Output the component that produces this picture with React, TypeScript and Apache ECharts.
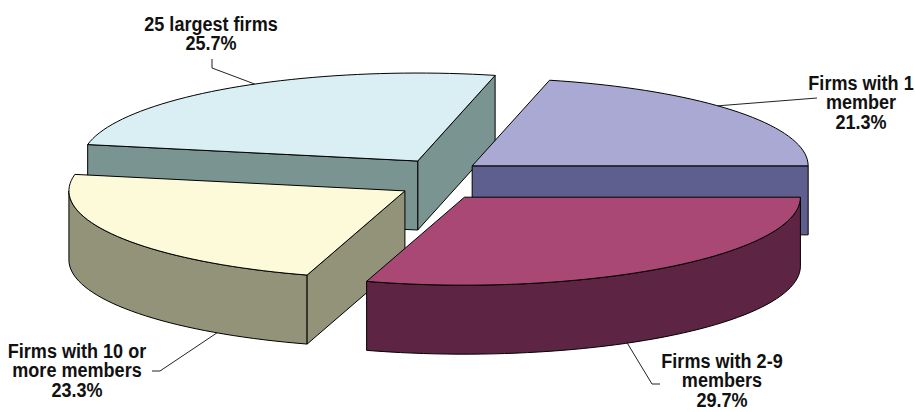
import React, { useEffect, useRef } from "react";
import * as echarts from "echarts";

// ---- data ----
const categories = [
  "Firms with 1\nmember",
  "Firms with 2-9\nmembers",
  "Firms with 10 or\nmore members",
  "25 largest firms",
];
const shares = [21.3, 29.7, 23.3, 25.7];

// ---- styles ----
const topColors = ["#aaa9d3", "#a94874", "#fcfad8", "#d9eff4"];
const sideColors = ["#5f5f8f", "#5e2443", "#93937a", "#7a9492"];
const drawRank = [1, 3, 2, 0];
const labelPos = [
  [861, 72],
  [722, 350],
  [77, 340],
  [211, 13],
];
const leaderAngle = [43, -61, -124, 119];
const leaderElbows = [
  [[817, 98]],
  [[652, 384], [660, 384]],
  [[160, 371], [152, 371]],
  [[212, 68], [212, 59]],
];

const CX = 440;
const CY = 179.5;
const RX = 336;
const RY = 88;
const DEPTH = 69;
const EXPLODE_X = 41;
const EXPLODE_Y = 22;

const FONT = '"Liberation Sans", Arial, sans-serif';
const TEXT_SCALE_X = 0.86;

export default function App() {
  const ref = useRef<HTMLDivElement>(null);

  useEffect(() => {
    document.body.style.margin = "0";
    if (!ref.current) return;
    const chart = echarts.init(ref.current, null, { renderer: "svg" });
    const total = shares.reduce((a, b) => a + b, 0);
    const startDeg = (shares[0] / total) * 360;
    const rad = (d: number) => (d * Math.PI) / 180;

    const sliceGeom = (i: number) => {
      let cum = 0;
      for (let k = 0; k < i; k++) cum += shares[k];
      const hi = startDeg - (cum / total) * 360;
      const lo = hi - (shares[i] / total) * 360;
      const mid = (lo + hi) / 2;
      const cx = CX + EXPLODE_X * Math.cos(rad(mid));
      const cy = CY - EXPLODE_Y * Math.sin(rad(mid));
      return { lo, hi, cx, cy };
    };

    const renderItem = (params: any) => {
      const i = params.dataIndex;
      const { lo, hi, cx, cy } = sliceGeom(i);
      const P = (deg: number, dz: number) => [
        cx + RX * Math.cos(rad(deg)),
        cy - RY * Math.sin(rad(deg)) + dz,
      ];
      const arc = (a: number, b: number, dz: number) => {
        const n = Math.max(2, Math.ceil(Math.abs(b - a) / 2));
        const pts: number[][] = [];
        for (let k = 0; k <= n; k++) pts.push(P(a + ((b - a) * k) / n, dz));
        return pts;
      };
      const base = drawRank[i] * 10;
      const sideStyle = {
        fill: sideColors[i],
        stroke: "#000",
        lineWidth: 1,
        lineJoin: "round",
      };
      const children: any[] = [];
      // curved wall (front half only)
      for (let k = -2; k <= 2; k++) {
        const a = Math.max(lo, -180 + 360 * k);
        const b = Math.min(hi, 360 * k);
        if (b - a > 0.01) {
          const top = arc(a, b, 0);
          const bot = arc(b, a, DEPTH);
          children.push({
            type: "polygon",
            z2: base + 1,
            shape: { points: top.concat(bot) },
            style: sideStyle,
          });
        }
      }
      // radial faces
      const radial = (deg: number) => {
        const r0 = P(deg, 0);
        const r1 = P(deg, DEPTH);
        children.push({
          type: "polygon",
          z2: base + 2,
          shape: { points: [[cx, cy], r0, r1, [cx, cy + DEPTH]] },
          style: sideStyle,
        });
      };
      if (Math.cos(rad(lo)) > 1e-6) radial(lo);
      if (Math.cos(rad(hi)) < -1e-6) radial(hi);
      // top face
      children.push({
        type: "polygon",
        z2: base + 5,
        shape: { points: [[cx, cy]].concat(arc(lo, hi, 0)) },
        style: { fill: topColors[i], stroke: "#000", lineWidth: 1, lineJoin: "round" },
      });
      // leader line
      const la = leaderAngle[i];
      const anchor = P(la, Math.sin(rad(la)) < 0 ? DEPTH : 0);
      children.push({
        type: "polyline",
        z2: 100,
        shape: { points: [anchor].concat(leaderElbows[i] as number[][]) },
        style: { stroke: "#222", lineWidth: 1, fill: null },
      });
      // label
      children.push({
        type: "text",
        z2: 101,
        x: labelPos[i][0],
        y: labelPos[i][1],
        scaleX: TEXT_SCALE_X,
        style: {
          text: `${categories[i]}\n${shares[i].toFixed(1)}%`,
          fill: "#111",
          fontFamily: FONT,
          fontWeight: "bold",
          fontSize: 21,
          lineHeight: 20,
          align: "center",
          verticalAlign: "top",
        },
      });
      return { type: "group", children };
    };

    chart.setOption({
      animation: false,
      backgroundColor: "#ffffff",
      series: [
        {
          type: "custom",
          coordinateSystem: "none",
          data: shares.map((v, i) => [i, v]),
          renderItem,
          silent: true,
        },
      ],
    });
    return () => chart.dispose();
  }, []);

  return <div ref={ref} style={{ width: 915, height: 412 }} />;
}
